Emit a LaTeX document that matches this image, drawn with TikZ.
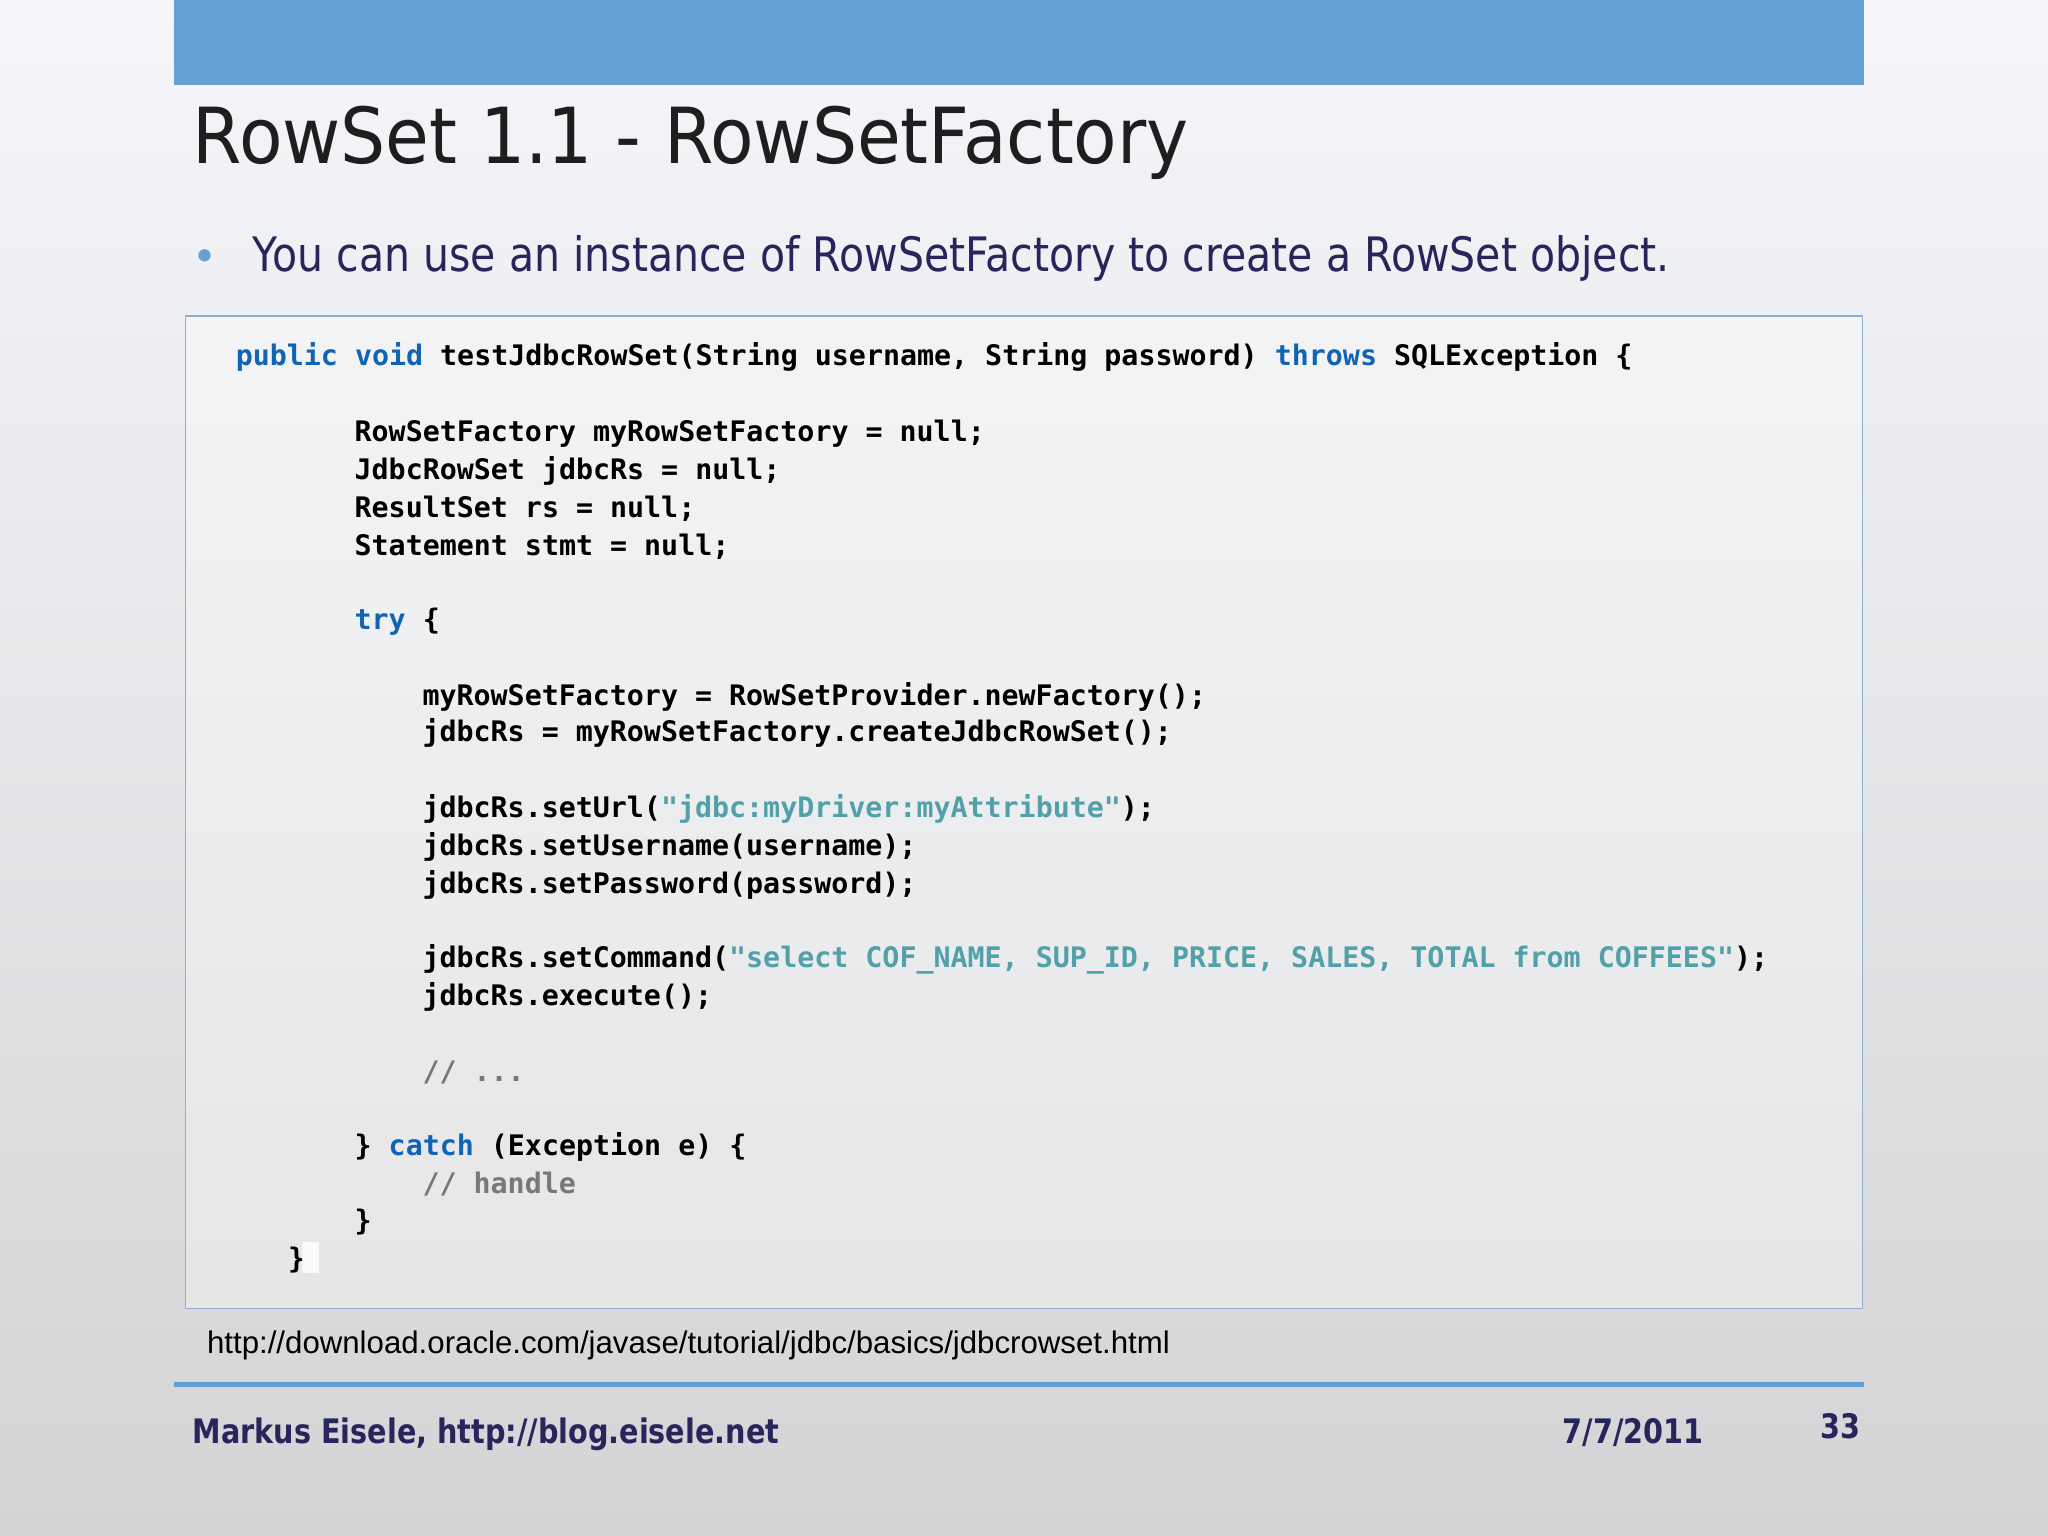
\documentclass[tikz,border=0pt]{standalone}
\usepackage{fontspec}
\setmainfont{DejaVu Sans}
\setmonofont{DejaVu Sans Mono}
\newfontfamily\cfont{Liberation Sans}
\newfontfamily\tfont{DejaVu Sans}[FakeStretch=0.92]
\newfontfamily\bfont{DejaVu Sans}[FakeStretch=0.865]
\newfontfamily\ffont{DejaVu Sans Bold}[FakeStretch=0.85]
\definecolor{topbar}{RGB}{99,160,212}
\definecolor{navy}{RGB}{38,38,92}
\definecolor{titlec}{RGB}{30,30,30}
\definecolor{kwc}{RGB}{16,100,180}
\definecolor{strc}{RGB}{82,160,170}
\definecolor{cmc}{RGB}{120,120,120}
\definecolor{boxline}{RGB}{140,175,210}
\newcommand\kw[1]{\textcolor{kwc}{#1}}
\newcommand\st[1]{\textcolor{strc}{#1}}
\newcommand\cm[1]{\textcolor{cmc}{#1}}
\tikzset{code/.style={anchor=base west,inner sep=0pt,font=\ttfamily\bfseries\fontsize{8.05}{10}\selectfont,text=black},
foot/.style={anchor=base west,inner sep=0pt,text=navy,font=\ffont\fontsize{9.6}{12}\selectfont}}
\begin{document}
\begin{tikzpicture}[x=0.013061cm,y=-0.013061cm]
\useasboundingbox (0,0) rectangle (1568,1176);
\shade[top color={rgb,255:red,244;green,246;blue,249},bottom color={rgb,255:red,212;green,212;blue,214}] (0,0) rectangle (1568,1176);
\fill[topbar] (133,0) rectangle (1427,65);
\node[anchor=base west,inner sep=0pt,text=titlec,font=\tfont\fontsize{22}{26}\selectfont] (title) at (147,125) {RowSet 1.1 - RowSetFactory};
\node[anchor=base west,inner sep=0pt,text=topbar,font=\fontsize{12}{14}\selectfont] (bul) at (147,208) {•};
\node[anchor=base west,inner sep=0pt,text=navy,font=\bfont\fontsize{13.5}{16}\selectfont] (btext) at (193,208) {You can use an instance of RowSetFactory to create a RowSet object.};
\draw[boxline,fill=white,fill opacity=0.35] (142,242) rectangle (1426,1002);
\node[code] (l0) at (180,280) {\kw{public} \kw{void} testJdbcRowSet(String username, String password) \kw{throws} SQLException \{};
\node[code] (l2) at (271,338) {RowSetFactory myRowSetFactory = null;};
\node[code] (l3) at (271,367) {JdbcRowSet jdbcRs = null;};
\node[code] (l4) at (271,396) {ResultSet rs = null;};
\node[code] (l5) at (271,425) {Statement stmt = null;};
\node[code] (l7) at (271,482) {\kw{try} \{};
\node[code] (l9) at (323,540) {myRowSetFactory = RowSetProvider.newFactory();};
\node[code] (l10) at (323,568) {jdbcRs = myRowSetFactory.createJdbcRowSet();};
\node[code] (l12) at (323,626) {jdbcRs.setUrl(\st{"jdbc:myDriver:myAttribute"});};
\node[code] (l13) at (323,655) {jdbcRs.setUsername(username);};
\node[code] (l14) at (323,684) {jdbcRs.setPassword(password);};
\node[code] (l16) at (323,741) {jdbcRs.setCommand(\st{"select COF\_NAME, SUP\_ID, PRICE, SALES, TOTAL from COFFEES"});};
\node[code] (l17) at (323,770) {jdbcRs.execute();};
\node[code] (l19) at (323,828) {\cm{// ...}};
\node[code] (l21) at (271,885) {\} \kw{catch} (Exception e) \{};
\node[code] (l22) at (323,914) {\cm{// handle}};
\node[code] (l23) at (271,942) {\}};
\node[code] (l24) at (220,971) {\}};
\fill[white,opacity=0.8] (231,951) rectangle (244,975);
\node[anchor=base west,inner sep=0pt,font=\cfont\fontsize{8.88}{10}\selectfont] (url) at (158,1036) {http://download.oracle.com/javase/tutorial/jdbc/basics/jdbcrowset.html};
\draw[topbar,line width=1.4pt] (133,1060) -- (1427,1060);
\node[foot] (auth) at (147,1105) {Markus Eisele, http://blog.eisele.net};
\node[foot] (date) at (1196,1105) {7/7/2011};
\node[foot] (page) at (1393,1101) {33};
\end{tikzpicture}
\end{document}
